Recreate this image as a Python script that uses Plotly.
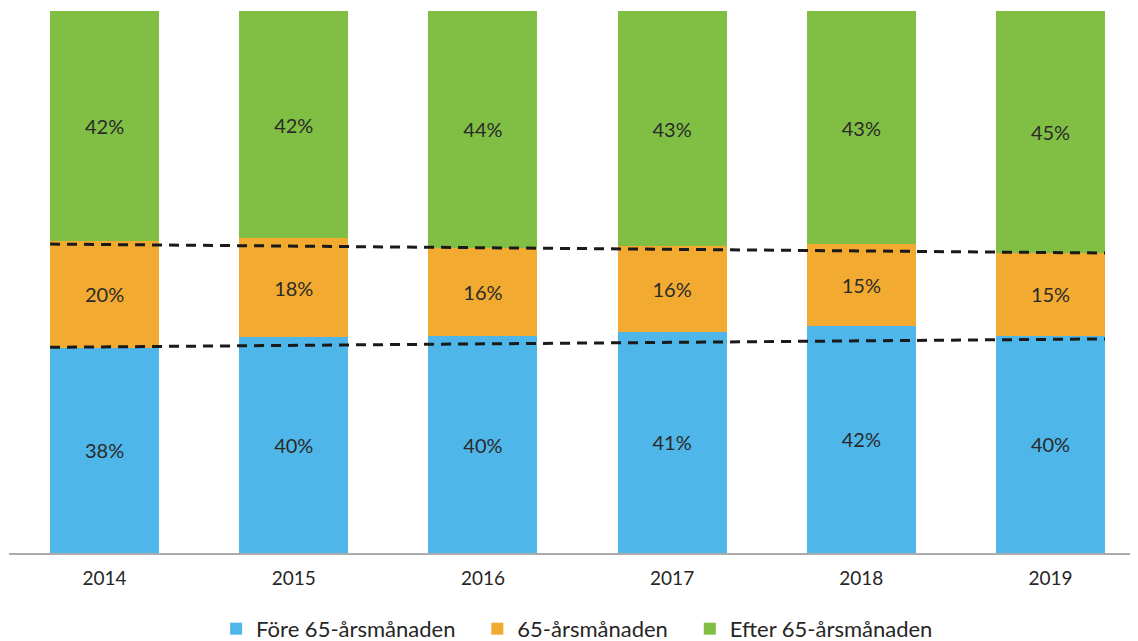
import plotly.graph_objects as go

# data (percent of each year)
years = ["2014", "2015", "2016", "2017", "2018", "2019"]
fore = [37.9, 39.8, 40.0, 40.8, 41.9, 40.1]
vid65 = [19.7, 18.3, 16.3, 15.8, 15.1, 15.3]
efter = [42.4, 41.9, 43.7, 43.4, 43.0, 44.6]
series_names = ["Före 65-årsmånaden", "65-årsmånaden", "Efter 65-årsmånaden"]

# dashed guide lines (start value, end value), percent
trend_lower = [37.95, 39.5]
trend_upper = [57.0, 55.35]

colors = ["#4EB6E8", "#F3AA30", "#80BF44"]
bar_w = 0.576
xs = list(range(len(years)))

fig = go.Figure()
for name, vals, col in zip(series_names, [fore, vid65, efter], colors):
    fig.add_trace(go.Bar(
        x=xs, y=vals, name=name + "\u00a0\u00a0\u00a0", width=bar_w,
        marker=dict(color=col, line=dict(width=0)),
        text=[f"{round(v):d}%" for v in vals],
        textposition="inside", insidetextanchor="middle", textangle=0,
        constraintext="none",
        textfont=dict(family="Lato, sans-serif", size=20, color="#2a2a2a"),
        hoverinfo="skip",
    ))

line_x = [xs[0] - bar_w / 2, xs[-1] + bar_w / 2]
for tr in [trend_lower, trend_upper]:
    fig.add_trace(go.Scatter(
        x=line_x, y=tr, mode="lines", showlegend=False,
        line=dict(color="#1a1a1a", width=3, dash="10px,7px"),
        hoverinfo="skip",
    ))

# page body has an 8px margin, so the figure is a bit smaller than the window
fig.update_layout(
    barmode="stack",
    width=1130, height=633,
    margin=dict(l=1, r=5, t=3, b=88, autoexpand=False),
    plot_bgcolor="white", paper_bgcolor="white",
    font=dict(family="Lato, sans-serif", color="#262626"),
    showlegend=True,
    legend=dict(
        orientation="h", x=0.513, xanchor="center", y=-0.14, yanchor="middle",
        font=dict(size=22, color="#262626"), traceorder="normal",
        itemwidth=30,
    ),
    xaxis=dict(
        range=[-0.505, 5.436], tickmode="array", tickvals=xs, ticktext=years,
        showgrid=False, zeroline=False, showline=True, linecolor="#ababab",
        linewidth=1.5, ticks="", tickfont=dict(size=19, color="#262626"),
        ticklabelstandoff=7,
    ),
    yaxis=dict(range=[0, 100], visible=False, showgrid=False, zeroline=False),
)

fig.write_html("out.html")
